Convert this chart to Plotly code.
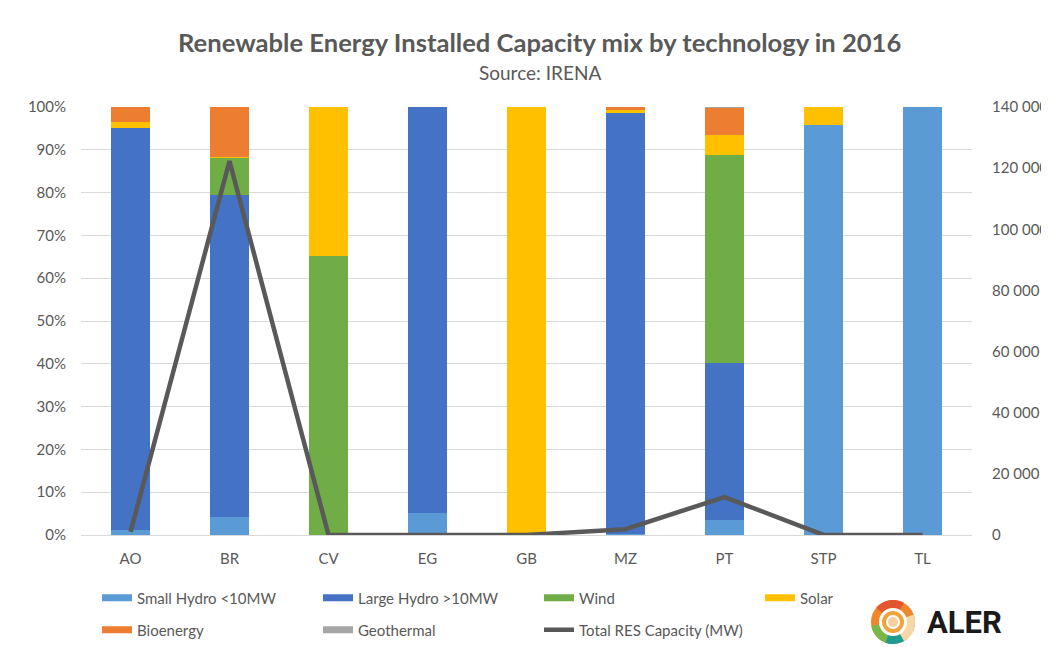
import math
import plotly.graph_objects as go

countries = ["AO", "BR", "CV", "EG", "GB", "MZ", "PT", "STP", "TL"]

# share of installed capacity by technology (%)
small_hydro = [1.2, 4.1, 0.0, 5.2, 0.0, 0.3, 3.5, 95.8, 100.0]
large_hydro = [94.0, 75.3, 0.0, 94.8, 0.0, 98.2, 36.7, 0.0, 0.0]
wind = [0.0, 8.8, 65.2, 0.0, 0.0, 0.0, 48.7, 0.0, 0.0]
solar = [1.3, 0.1, 34.8, 0.0, 100.0, 0.8, 4.5, 4.2, 0.0]
bioenergy = [3.5, 11.7, 0.0, 0.0, 0.0, 0.7, 6.4, 0.0, 0.0]
geothermal = [0.0, 0.0, 0.0, 0.0, 0.0, 0.0, 0.2, 0.0, 0.0]

# total renewable capacity (MW)
total_res = [1000, 122300, 30, 130, 20, 1900, 12400, 10, 10]

series = [
    ("Small Hydro <10MW", small_hydro, "#5B9BD5", "legend"),
    ("Large Hydro >10MW", large_hydro, "#4472C4", "legend"),
    ("Wind", wind, "#70AD47", "legend"),
    ("Solar", solar, "#FFC000", "legend"),
    ("Bioenergy", bioenergy, "#ED7D31", "legend2"),
    ("Geothermal", geothermal, "#A5A5A5", "legend2"),
]

txt = "#595959"
grid = "#D9D9D9"

fig = go.Figure()
for name, vals, col, leg in series:
    fig.add_trace(go.Bar(x=countries, y=vals, name=name, marker_color=col,
                         marker_line_width=0, showlegend=False))
    # wide rectangular legend key like the original
    fig.add_trace(go.Scatter(x=[None], y=[None], name=name, mode="lines",
                             line=dict(color=col, width=7), legend=leg,
                             hoverinfo="skip"))

fig.add_trace(go.Scatter(x=countries, y=total_res, name="Total RES Capacity (MW)",
                         mode="lines", line=dict(color="#595959", width=4.5),
                         yaxis="y2", legend="legend2"))

leg_common = dict(orientation="h", xref="container", yref="container",
                  xanchor="left", yanchor="middle", entrywidth=176,
                  traceorder="normal", bgcolor="rgba(0,0,0,0)",
                  font=dict(size=15, color=txt))

# the page body adds an 8px offset, so the figure is 8px smaller than the window
W, H = 1041, 639
fig.update_layout(
    width=W, height=H,
    paper_bgcolor="white", plot_bgcolor="white",
    font=dict(family="Lato, Open Sans, sans-serif", size=15, color=txt),
    separators=". ",
    barmode="stack", bargap=0.6,
    margin=dict(l=73, r=77, t=99, b=112),
    xaxis=dict(showline=True, linecolor=grid, linewidth=1, ticks="",
               automargin=False, ticklabelstandoff=10,
               tickfont=dict(size=15, color=txt)),
    yaxis=dict(range=[0, 100], dtick=10, ticksuffix="%", gridcolor=grid,
               gridwidth=1, zeroline=False, automargin=False,
               ticklabelstandoff=14, tickfont=dict(size=15, color=txt)),
    yaxis2=dict(range=[0, 140000], dtick=20000, overlaying="y", side="right",
                showgrid=False, zeroline=False, tickformat=",d",
                automargin=False, ticklabelstandoff=19,
                tickfont=dict(size=15, color=txt)),
    legend=dict(x=89 / W, y=1 - 590 / H, **leg_common),
    legend2=dict(x=89 / W, y=1 - 622 / H, **leg_common),
)

fig.add_annotation(text="<b>Renewable Energy Installed Capacity mix by technology in 2016</b>",
                   xref="paper", yref="paper", x=(539 - 81) / 891, y=(535 - 42) / 428,
                   xanchor="center", yanchor="middle", showarrow=False,
                   font=dict(size=25.6, color=txt))
fig.add_annotation(text="Source: IRENA", xref="paper", yref="paper",
                   x=(540 - 81) / 891, y=(535 - 72) / 428, xanchor="center",
                   yanchor="middle", showarrow=False, font=dict(size=19, color=txt))

# ALER logo approximation (pixel-sized shapes anchored in paper coords)
lx, ly = (893 - 81) / 891, (535 - 622) / 428


def ring(r, color):
    fig.add_shape(type="circle", xref="paper", yref="paper",
                  xsizemode="pixel", ysizemode="pixel", xanchor=lx, yanchor=ly,
                  x0=-r, x1=r, y0=-r, y1=r, fillcolor=color, line_width=0)


def wedge(r, a0, a1, color):
    pts = ["M 0 0"]
    steps = 16
    for i in range(steps + 1):
        a = math.radians(a0 + (a1 - a0) * i / steps)
        pts.append("L %.2f %.2f" % (r * math.cos(a), r * math.sin(a)))
    pts.append("Z")
    fig.add_shape(type="path", xref="paper", yref="paper",
                  xsizemode="pixel", ysizemode="pixel", xanchor=lx, yanchor=ly,
                  path=" ".join(pts), fillcolor=color, line_width=0)


ring(22, "#F0862A")
wedge(22, 60, 140, "#E4572E")
wedge(22, 190, 260, "#7AB648")
wedge(22, 250, 310, "#1F9C8F")
wedge(22, 300, 380, "#F6D8A8")
ring(14, "white")
ring(11, "#F2A23A")
ring(7, "white")
ring(5, "#F5CFA0")

fig.add_annotation(text="<b>ALER</b>", xref="paper", yref="paper",
                   x=(925 - 81) / 891, y=ly, xanchor="left", yanchor="middle",
                   showarrow=False, font=dict(size=31, color="#1A1A1A",
                                              family="Roboto, sans-serif"))

fig.write_html("out.html")
